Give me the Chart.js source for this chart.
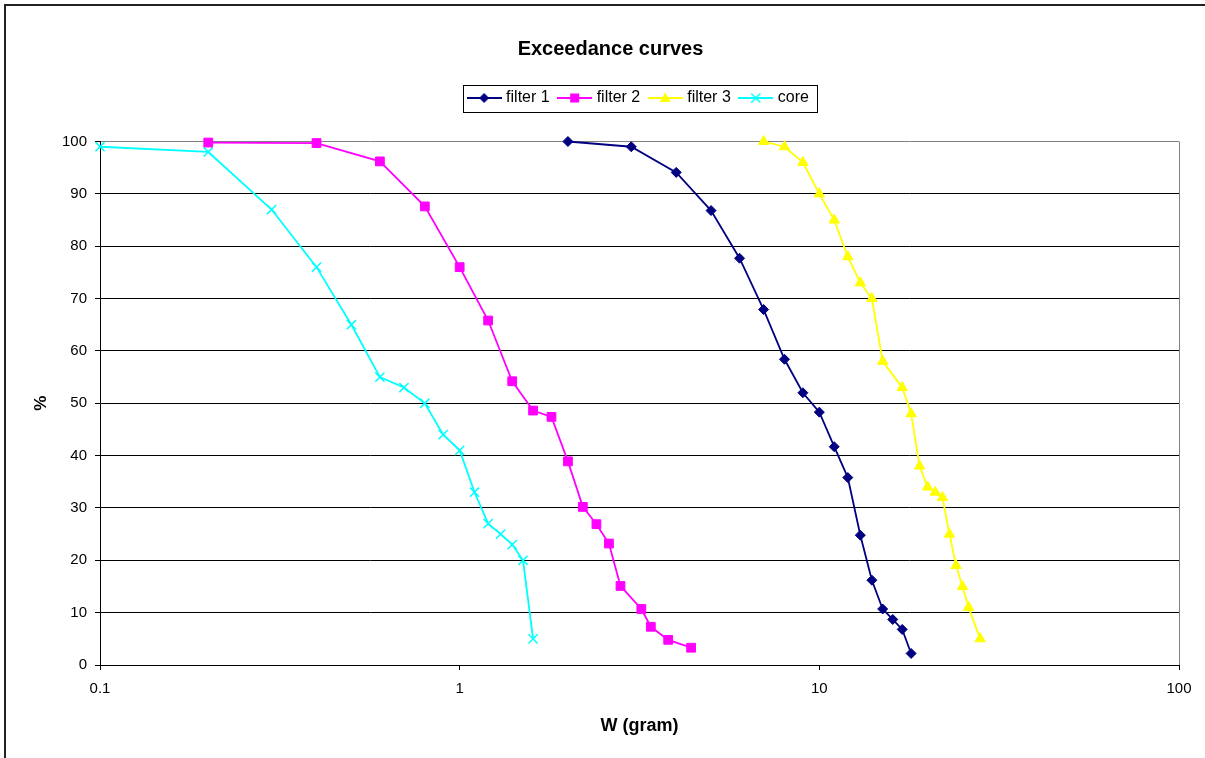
<!DOCTYPE html>
<html>
<head>
<meta charset="utf-8">
<script src="https://cdn.jsdelivr.net/npm/chart.js@4.4.1/dist/chart.umd.min.js"></script>
<style>
    html, body { margin: 0; padding: 0; background: #fff; }
    canvas { display: block; }
</style>
</head>
<body>
<canvas id="myChart" width="1205" height="758"></canvas>
<script>
// data
var seriesNames = ["filter 1", "filter 2", "filter 3", "core"];

var filter1W = [2, 3, 4, 5, 6, 7, 8, 9, 10, 11, 12, 13, 14, 15, 16, 17, 18];
var filter1Pct = [100, 99, 94.1, 86.8, 77.7, 67.9, 58.4, 52, 48.3, 41.7, 35.8, 24.8, 16.2, 10.7, 8.7, 6.8, 2.2];

var filter2W = [0.2, 0.4, 0.6, 0.8, 1, 1.2, 1.4, 1.6, 1.8, 2, 2.2, 2.4, 2.6, 2.8, 3.2, 3.4, 3.8, 4.4];
var filter2Pct = [99.8, 99.7, 96.2, 87.6, 76, 65.8, 54.2, 48.6, 47.4, 38.9, 30.2, 26.9, 23.2, 15.1, 10.7, 7.3, 4.8, 3.3];

var filter3W = [7, 8, 9, 10, 11, 12, 13, 14, 15, 17, 18, 19, 20, 21, 22, 23, 24, 25, 26, 28];
var filter3Pct = [100, 99, 96, 90, 85, 78, 73, 70, 58, 53, 48, 38, 34, 33, 32, 25, 19, 15, 11, 5];

var coreW = [0.1, 0.2, 0.3, 0.4, 0.5, 0.6, 0.7, 0.8, 0.9, 1, 1.1, 1.2, 1.3, 1.4, 1.5, 1.6];
var corePct = [99, 98, 87, 76, 65, 55, 53, 50, 44, 41, 33, 27, 25, 23, 20, 5];

var xTickValues = [0.1, 1, 10, 100];

var colors = ["#000080", "#FF00FF", "#FFFF00", "#00FFFF"];
var markers = ["rectRot", "rect", "triangle", "crossRot"];
var markerRadius = [5, 6.2, 6, 6.5];
var fontFamily = "'Liberation Sans', Arial, sans-serif";

function toPoints(xs, ys) {
    return xs.map(function (x, i) {
        return { x: x, y: ys[i] };
    });
}

var allW = [filter1W, filter2W, filter3W, coreW];
var allPct = [filter1Pct, filter2Pct, filter3Pct, corePct];

// small canvas with a line and the marker, used as legend symbol
function legendIcon(i) {
    var c = document.createElement("canvas");
    c.width = 35;
    c.height = 16;
    var g = c.getContext("2d");
    g.strokeStyle = colors[i];
    g.fillStyle = colors[i];
    g.lineWidth = 2;
    g.beginPath();
    g.moveTo(0, 8);
    g.lineTo(35, 8);
    g.stroke();
    var cx = 17.5, cy = 8;
    g.lineWidth = 1.5;
    g.beginPath();
    if (markers[i] == "rectRot") {
        g.moveTo(cx, cy - 5);
        g.lineTo(cx + 5, cy);
        g.lineTo(cx, cy + 5);
        g.lineTo(cx - 5, cy);
        g.closePath();
        g.fill();
    } else if (markers[i] == "rect") {
        g.rect(cx - 4.5, cy - 4.5, 9, 9);
        g.fill();
    } else if (markers[i] == "triangle") {
        g.moveTo(cx, cy - 5.5);
        g.lineTo(cx + 5.5, cy + 4);
        g.lineTo(cx - 5.5, cy + 4);
        g.closePath();
        g.fill();
    } else {
        g.moveTo(cx - 4.5, cy - 4.5);
        g.lineTo(cx + 4.5, cy + 4.5);
        g.moveTo(cx + 4.5, cy - 4.5);
        g.lineTo(cx - 4.5, cy + 4.5);
        g.stroke();
    }
    return c;
}

var datasets = [];
for (let i = 0; i < seriesNames.length; i++) {
    datasets.push({
        label: seriesNames[i],
        data: toPoints(allW[i], allPct[i]),
        showLine: true,
        clip: false,
        borderColor: colors[i],
        backgroundColor: colors[i],
        borderWidth: 1.8,
        tension: 0,
        fill: false,
        pointStyle: markers[i],
        pointRadius: markerRadius[i],
        pointHoverRadius: markerRadius[i],
        pointBackgroundColor: colors[i],
        pointBorderColor: colors[i],
        pointBorderWidth: markers[i] == "crossRot" ? 1.5 : 1
    });
}

var framePlugin = {
    id: "framePlugin",
    afterLayout: function (chart) {
        // title centred on the outer frame, legend centred on the plot area
        var t = chart.titleBlock;
        var dt = 610.5 - (t.left + t.right) / 2;
        t.left += dt;
        t.right += dt;
        var lg = chart.legend;
        var pad = lg.options.labels.padding;
        var start = (lg.left + pad + lg.right - lg.lineWidths[0]) / 2;
        var want = (chart.chartArea.left + chart.chartArea.right) / 2 - (lg.lineWidths[0] - pad) / 2;
        lg.left += want - start;
        lg.right += want - start;
    },
    beforeDraw: function (chart) {
        var ctx = chart.ctx;
        ctx.save();
        ctx.strokeStyle = "#222";
        ctx.lineWidth = 2;
        ctx.strokeRect(5, 5, 1300, 900);
        ctx.restore();
    },
    afterDraw: function (chart) {
        var ctx = chart.ctx;
        var lg = chart.legend;
        var pad = lg.options.labels.padding;
        var start = (lg.left + pad + lg.right - lg.lineWidths[0]) / 2;
        var x0 = Math.round(start - 7.5);
        var x1 = Math.round(start + lg.lineWidths[0] - pad + 8);
        var y0 = Math.round(lg.top + 5.5);
        var y1 = Math.round(lg.top + 32.5);
        ctx.save();
        ctx.strokeStyle = "#000";
        ctx.lineWidth = 1;
        ctx.strokeRect(x0 + 0.5, y0 + 0.5, x1 - x0, y1 - y0);
        ctx.restore();
    }
};

var ctx = document.getElementById("myChart").getContext("2d");
var chart = new Chart(ctx, {
    type: "scatter",
    data: { datasets: datasets },
    plugins: [framePlugin],
    options: {
        responsive: false,
        animation: false,
        devicePixelRatio: 1,
        layout: { padding: { left: 10, right: 26, top: 0, bottom: 0 } },
        plugins: {
            tooltip: { enabled: false },
            title: {
                display: true,
                text: "Exceedance curves",
                color: "#000",
                font: { family: fontFamily, size: 20, weight: "bold" },
                padding: { top: 37.5, bottom: 17.5 }
            },
            legend: {
                display: true,
                position: "top",
                labels: {
                    usePointStyle: true,
                    pointStyleWidth: 28,
                    padding: 11,
                    color: "#000",
                    font: { family: fontFamily, size: 16 },
                    generateLabels: function (chart) {
                        return chart.data.datasets.map(function (ds, i) {
                            return {
                                text: ds.label,
                                pointStyle: legendIcon(i),
                                fillStyle: colors[i],
                                strokeStyle: colors[i],
                                lineWidth: 0,
                                hidden: false,
                                datasetIndex: i,
                                fontColor: "#000"
                            };
                        });
                    }
                }
            }
        },
        scales: {
            x: {
                type: "logarithmic",
                position: "bottom",
                min: 0.1,
                max: 100,
                afterBuildTicks: function (scale) {
                    scale.ticks = xTickValues.map(function (v) { return { value: v }; });
                },
                afterFit: function (scale) { scale.height = 93; },
                grid: {
                    drawOnChartArea: true,
                    color: function (c) {
                        return c.tick && c.tick.value == 100 ? "#808080" : "rgba(0,0,0,0)";
                    },
                    tickColor: "#000",
                    tickLength: 5,
                    lineWidth: 1
                },
                border: { color: "#000", width: 1 },
                ticks: {
                    color: "#000",
                    font: { family: fontFamily, size: 15 },
                    padding: 10,
                    maxRotation: 0,
                    autoSkip: false,
                    callback: function (value) { return String(value); }
                },
                title: {
                    display: true,
                    text: "W (gram)",
                    color: "#000",
                    font: { family: fontFamily, size: 18, weight: "bold" },
                    padding: { top: 0, bottom: 21 }
                }
            },
            xTop: {
                type: "linear",
                position: "top",
                display: true,
                grid: { display: false },
                border: { display: false },
                ticks: { display: false },
                afterFit: function (scale) { scale.height = 25.5; }
            },
            y: {
                min: 0,
                max: 100,
                afterFit: function (scale) { scale.width = 90; },
                ticks: {
                    stepSize: 10,
                    color: "#000",
                    font: { family: fontFamily, size: 15 },
                    padding: 8
                },
                grid: {
                    color: function (c) {
                        return c.tick && c.tick.value == 100 ? "#808080" : "#000";
                    },
                    tickColor: "#000",
                    tickLength: 5,
                    lineWidth: 1
                },
                border: { color: "#000", width: 1 },
                title: {
                    display: true,
                    text: "%",
                    color: "#000",
                    font: { family: fontFamily, size: 17, weight: "bold" },
                    padding: { top: 21, bottom: 0 }
                }
            }
        }
    }
});
</script>
</body>
</html>
